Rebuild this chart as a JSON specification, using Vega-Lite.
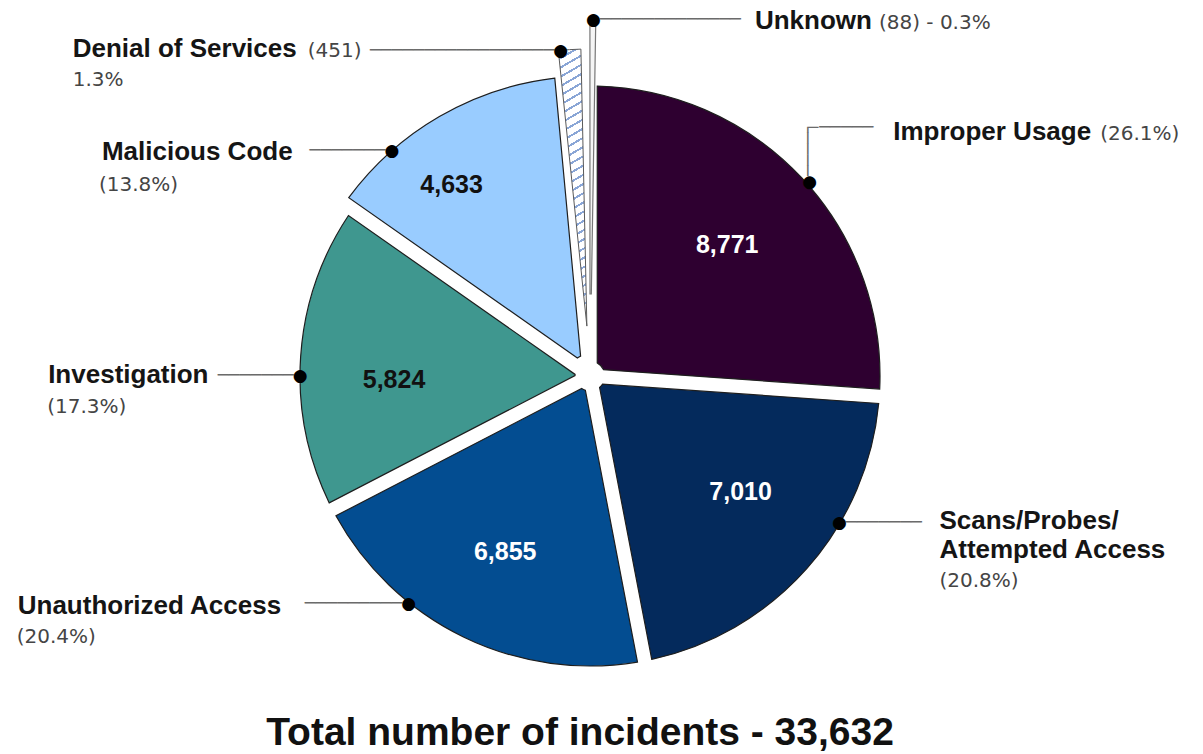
{
  "$schema": "https://vega.github.io/schema/vega-lite/v6.json",
  "width": 1180,
  "height": 752,
  "autosize": {"type": "none"},
  "padding": {"left": 0, "top": 0, "right": 23, "bottom": 2},
  "background": "white",
  "config": {"view": {"stroke": null}, "text": {"font": "Liberation Sans"}},
  "title": {"text": "Total number of incidents - 33,632", "orient": "bottom", "font": "Liberation Sans", "fontSize": 39, "fontWeight": "bold", "color": "#111111", "offset": -38, "dx": -10, "frame": "group"},
  "data": {"values": [
    {"id": "imp", "category": "Improper Usage", "value": 8771, "name": "Improper Usage", "pct": "(26.1%)"},
    {"id": "scan", "category": "Scans/Probes/Attempted Access", "value": 7010, "name": "Scans/Probes/\nAttempted Access", "pct": "(20.8%)"},
    {"id": "unauth", "category": "Unauthorized Access", "value": 6855, "name": "Unauthorized Access", "pct": "(20.4%)"},
    {"id": "inv", "category": "Investigation", "value": 5824, "name": "Investigation", "pct": "(17.3%)"},
    {"id": "mal", "category": "Malicious Code", "value": 4633, "name": "Malicious Code", "pct": "(13.8%)"},
    {"id": "dos", "category": "Denial of Services", "value": 451, "name": "Denial of Services", "pct": "(451)", "pct2": "1.3%"},
    {"id": "unk", "category": "Unknown", "value": 88, "name": "Unknown", "pct": "(88) - 0.3%"}
  ]},
  "transform": [
    {"window": [{"op": "row_number", "as": "rank"}]},
    {"stack": "value", "groupby": [], "sort": [{"field": "rank", "order": "ascending"}], "as": ["v0", "v1"]},
    {"fold": ["v0", "v1"], "as": ["k", "edge"]},
    {"joinaggregate": [{"op": "mean", "field": "edge", "as": "mid"}], "groupby": ["id"]},
    {"filter": "datum.k === 'v0'"}
  ],
  "encoding": {
    "theta": {"field": "mid", "type": "quantitative", "stack": null, "scale": {"zero": true, "nice": false}}
  },
  "layer": [
    {
      "transform": [{"filter": {"field": "id", "oneOf": ["imp", "scan", "unauth", "inv"]}}],
      "mark": {"type": "arc", "radius": 290, "radius2": 15, "padAngle": 0.05, "stroke": "#1e1e1e", "strokeWidth": 1.2},
      "encoding": {
        "theta": {"field": "v0", "type": "quantitative", "stack": null},
        "theta2": {"field": "v1"},
        "color": {"field": "id", "type": "nominal", "scale": {"domain": ["imp", "scan", "unauth", "inv"], "range": ["#2e0030", "#042a5c", "#034d91", "#3f978f"]}, "legend": null}
      }
    },
    {
      "transform": [{"filter": {"field": "id", "equal": "mal"}}],
      "mark": {"type": "arc", "radius": 300, "radius2": 22, "padAngle": 0.05, "fill": "#99ccff", "stroke": "#1e1e1e", "strokeWidth": 1.2},
      "encoding": {"theta": {"field": "v0", "type": "quantitative", "stack": null}, "theta2": {"field": "v1"}}
    },
    {
      "transform": [{"filter": {"field": "id", "equal": "dos"}}],
      "mark": {"type": "arc", "radius": 327, "radius2": 50, "padAngle": 0.015, "thetaOffset": -0.012, "theta2Offset": -0.012, "stroke": "#5a5a5a", "strokeWidth": 1,
        "fill": {"gradient": "linear", "x1": 0, "y1": 0, "x2": 0.06, "y2": 1, "stops": [
          {"offset": 0, "color": "#8aa6d6"}, {"offset": 0.0083, "color": "#8aa6d6"}, {"offset": 0.0083, "color": "#ffffff"}, {"offset": 0.0333, "color": "#ffffff"},
          {"offset": 0.0333, "color": "#8aa6d6"}, {"offset": 0.0417, "color": "#8aa6d6"}, {"offset": 0.0417, "color": "#ffffff"}, {"offset": 0.0667, "color": "#ffffff"},
          {"offset": 0.0667, "color": "#8aa6d6"}, {"offset": 0.075, "color": "#8aa6d6"}, {"offset": 0.075, "color": "#ffffff"}, {"offset": 0.1, "color": "#ffffff"},
          {"offset": 0.1, "color": "#8aa6d6"}, {"offset": 0.1083, "color": "#8aa6d6"}, {"offset": 0.1083, "color": "#ffffff"}, {"offset": 0.1333, "color": "#ffffff"},
          {"offset": 0.1333, "color": "#8aa6d6"}, {"offset": 0.1417, "color": "#8aa6d6"}, {"offset": 0.1417, "color": "#ffffff"}, {"offset": 0.1667, "color": "#ffffff"},
          {"offset": 0.1667, "color": "#8aa6d6"}, {"offset": 0.175, "color": "#8aa6d6"}, {"offset": 0.175, "color": "#ffffff"}, {"offset": 0.2, "color": "#ffffff"},
          {"offset": 0.2, "color": "#8aa6d6"}, {"offset": 0.2083, "color": "#8aa6d6"}, {"offset": 0.2083, "color": "#ffffff"}, {"offset": 0.2333, "color": "#ffffff"},
          {"offset": 0.2333, "color": "#8aa6d6"}, {"offset": 0.2417, "color": "#8aa6d6"}, {"offset": 0.2417, "color": "#ffffff"}, {"offset": 0.2667, "color": "#ffffff"},
          {"offset": 0.2667, "color": "#8aa6d6"}, {"offset": 0.275, "color": "#8aa6d6"}, {"offset": 0.275, "color": "#ffffff"}, {"offset": 0.3, "color": "#ffffff"},
          {"offset": 0.3, "color": "#8aa6d6"}, {"offset": 0.3083, "color": "#8aa6d6"}, {"offset": 0.3083, "color": "#ffffff"}, {"offset": 0.3333, "color": "#ffffff"},
          {"offset": 0.3333, "color": "#8aa6d6"}, {"offset": 0.3417, "color": "#8aa6d6"}, {"offset": 0.3417, "color": "#ffffff"}, {"offset": 0.3667, "color": "#ffffff"},
          {"offset": 0.3667, "color": "#8aa6d6"}, {"offset": 0.375, "color": "#8aa6d6"}, {"offset": 0.375, "color": "#ffffff"}, {"offset": 0.4, "color": "#ffffff"},
          {"offset": 0.4, "color": "#8aa6d6"}, {"offset": 0.4083, "color": "#8aa6d6"}, {"offset": 0.4083, "color": "#ffffff"}, {"offset": 0.4333, "color": "#ffffff"},
          {"offset": 0.4333, "color": "#8aa6d6"}, {"offset": 0.4417, "color": "#8aa6d6"}, {"offset": 0.4417, "color": "#ffffff"}, {"offset": 0.4667, "color": "#ffffff"},
          {"offset": 0.4667, "color": "#8aa6d6"}, {"offset": 0.475, "color": "#8aa6d6"}, {"offset": 0.475, "color": "#ffffff"}, {"offset": 0.5, "color": "#ffffff"},
          {"offset": 0.5, "color": "#8aa6d6"}, {"offset": 0.5083, "color": "#8aa6d6"}, {"offset": 0.5083, "color": "#ffffff"}, {"offset": 0.5333, "color": "#ffffff"},
          {"offset": 0.5333, "color": "#8aa6d6"}, {"offset": 0.5417, "color": "#8aa6d6"}, {"offset": 0.5417, "color": "#ffffff"}, {"offset": 0.5667, "color": "#ffffff"},
          {"offset": 0.5667, "color": "#8aa6d6"}, {"offset": 0.575, "color": "#8aa6d6"}, {"offset": 0.575, "color": "#ffffff"}, {"offset": 0.6, "color": "#ffffff"},
          {"offset": 0.6, "color": "#8aa6d6"}, {"offset": 0.6083, "color": "#8aa6d6"}, {"offset": 0.6083, "color": "#ffffff"}, {"offset": 0.6333, "color": "#ffffff"},
          {"offset": 0.6333, "color": "#8aa6d6"}, {"offset": 0.6417, "color": "#8aa6d6"}, {"offset": 0.6417, "color": "#ffffff"}, {"offset": 0.6667, "color": "#ffffff"},
          {"offset": 0.6667, "color": "#8aa6d6"}, {"offset": 0.675, "color": "#8aa6d6"}, {"offset": 0.675, "color": "#ffffff"}, {"offset": 0.7, "color": "#ffffff"},
          {"offset": 0.7, "color": "#8aa6d6"}, {"offset": 0.7083, "color": "#8aa6d6"}, {"offset": 0.7083, "color": "#ffffff"}, {"offset": 0.7333, "color": "#ffffff"},
          {"offset": 0.7333, "color": "#8aa6d6"}, {"offset": 0.7417, "color": "#8aa6d6"}, {"offset": 0.7417, "color": "#ffffff"}, {"offset": 0.7667, "color": "#ffffff"},
          {"offset": 0.7667, "color": "#8aa6d6"}, {"offset": 0.775, "color": "#8aa6d6"}, {"offset": 0.775, "color": "#ffffff"}, {"offset": 0.8, "color": "#ffffff"},
          {"offset": 0.8, "color": "#8aa6d6"}, {"offset": 0.8083, "color": "#8aa6d6"}, {"offset": 0.8083, "color": "#ffffff"}, {"offset": 0.8333, "color": "#ffffff"},
          {"offset": 0.8333, "color": "#8aa6d6"}, {"offset": 0.8417, "color": "#8aa6d6"}, {"offset": 0.8417, "color": "#ffffff"}, {"offset": 0.8667, "color": "#ffffff"},
          {"offset": 0.8667, "color": "#8aa6d6"}, {"offset": 0.875, "color": "#8aa6d6"}, {"offset": 0.875, "color": "#ffffff"}, {"offset": 0.9, "color": "#ffffff"},
          {"offset": 0.9, "color": "#8aa6d6"}, {"offset": 0.9083, "color": "#8aa6d6"}, {"offset": 0.9083, "color": "#ffffff"}, {"offset": 0.9333, "color": "#ffffff"},
          {"offset": 0.9333, "color": "#8aa6d6"}, {"offset": 0.9417, "color": "#8aa6d6"}, {"offset": 0.9417, "color": "#ffffff"}, {"offset": 0.9667, "color": "#ffffff"},
          {"offset": 0.9667, "color": "#8aa6d6"}, {"offset": 0.975, "color": "#8aa6d6"}, {"offset": 0.975, "color": "#ffffff"}, {"offset": 1, "color": "#ffffff"}
        ]}},
      "encoding": {"theta": {"field": "v0", "type": "quantitative", "stack": null}, "theta2": {"field": "v1"}}
    },
    {
      "transform": [{"filter": {"field": "id", "equal": "unk"}}],
      "mark": {"type": "arc", "radius": 356, "radius2": 82, "thetaOffset": 0.008, "theta2Offset": 0.008, "fill": "#f5f5f5", "stroke": "#777777", "strokeWidth": 1.2},
      "encoding": {"theta": {"field": "v0", "type": "quantitative", "stack": null}, "theta2": {"field": "v1"}}
    },

    {"transform": [{"filter": {"field": "id", "equal": "imp"}}], "mark": {"type": "text", "radius": 290, "angle": 270, "align": "right", "baseline": "middle", "dx": 56.38, "dy": 7.33, "font": "DejaVu Sans", "fontSize": 18, "fill": "#6b6b6b"}, "encoding": {"text": {"value": "────┐"}}},
    {"transform": [{"filter": {"field": "id", "equal": "imp"}}], "mark": {"type": "text", "radius": 290, "align": "left", "baseline": "middle", "dx": 17.13, "dy": -49.78, "font": "DejaVu Sans", "fontSize": 18, "fill": "#6b6b6b"}, "encoding": {"text": {"value": "─────"}}},
    {"transform": [{"filter": {"field": "id", "equal": "scan"}}], "mark": {"type": "text", "radius": 290, "align": "left", "baseline": "middle", "dx": 39, "dy": -45.8, "font": "DejaVu Sans", "fontSize": 18, "fill": "#6b6b6b"}, "encoding": {"text": {"value": "───────"}}},
    {"transform": [{"filter": {"field": "id", "equal": "unauth"}}], "mark": {"type": "text", "radius": 290, "align": "right", "baseline": "middle", "dx": -61.2, "dy": -32.5, "font": "DejaVu Sans", "fontSize": 18, "fill": "#6b6b6b"}, "encoding": {"text": {"value": "─────────"}}},
    {"transform": [{"filter": {"field": "id", "equal": "inv"}}], "mark": {"type": "text", "radius": 290, "align": "right", "baseline": "middle", "dx": -7, "dy": 19.5, "font": "DejaVu Sans", "fontSize": 18, "fill": "#6b6b6b"}, "encoding": {"text": {"value": "───────"}}},
    {"transform": [{"filter": {"field": "id", "equal": "mal"}}], "mark": {"type": "text", "radius": 290, "align": "right", "baseline": "middle", "dx": -59, "dy": 25.7, "font": "DejaVu Sans", "fontSize": 18, "fill": "#6b6b6b"}, "encoding": {"text": {"value": "───────"}}},
    {"transform": [{"filter": {"field": "id", "equal": "dos"}}], "mark": {"type": "text", "radius": 327, "align": "right", "baseline": "middle", "dx": -19.3, "dy": 1.4, "font": "DejaVu Sans", "fontSize": 18, "fill": "#6b6b6b"}, "encoding": {"text": {"value": "─────────────────"}}},
    {"transform": [{"filter": {"field": "id", "equal": "unk"}}], "mark": {"type": "text", "radius": 356, "align": "left", "baseline": "middle", "dx": 10, "dy": 0, "font": "DejaVu Sans", "fontSize": 18, "fill": "#6b6b6b"}, "encoding": {"text": {"value": "─────────────"}}},

    {"transform": [{"filter": {"field": "id", "equal": "imp"}}], "mark": {"type": "text", "radius": 290, "angle": 270, "align": "center", "baseline": "middle", "dx": -4.52, "dy": 7.13, "font": "DejaVu Sans", "fontSize": 17, "fill": "#000000"}, "encoding": {"text": {"value": "●"}}},
    {"transform": [{"filter": {"field": "id", "equal": "scan"}}], "mark": {"type": "text", "radius": 290, "align": "center", "baseline": "middle", "dx": 32.5, "dy": -45.8, "font": "DejaVu Sans", "fontSize": 17, "fill": "#000000"}, "encoding": {"text": {"value": "●"}}},
    {"transform": [{"filter": {"field": "id", "equal": "unauth"}}], "mark": {"type": "text", "radius": 290, "align": "center", "baseline": "middle", "dx": -54.7, "dy": -32.5, "font": "DejaVu Sans", "fontSize": 17, "fill": "#000000"}, "encoding": {"text": {"value": "●"}}},
    {"transform": [{"filter": {"field": "id", "equal": "inv"}}], "mark": {"type": "text", "radius": 290, "align": "center", "baseline": "middle", "dx": -0.5, "dy": 19.5, "font": "DejaVu Sans", "fontSize": 17, "fill": "#000000"}, "encoding": {"text": {"value": "●"}}},
    {"transform": [{"filter": {"field": "id", "equal": "mal"}}], "mark": {"type": "text", "radius": 290, "align": "center", "baseline": "middle", "dx": -52.5, "dy": 25.7, "font": "DejaVu Sans", "fontSize": 17, "fill": "#000000"}, "encoding": {"text": {"value": "●"}}},
    {"transform": [{"filter": {"field": "id", "equal": "dos"}}], "mark": {"type": "text", "radius": 327, "align": "center", "baseline": "middle", "dx": -12.8, "dy": 1.4, "font": "DejaVu Sans", "fontSize": 17, "fill": "#000000"}, "encoding": {"text": {"value": "●"}}},
    {"transform": [{"filter": {"field": "id", "equal": "unk"}}], "mark": {"type": "text", "radius": 356, "align": "center", "baseline": "middle", "dx": 3.5, "dy": 0, "font": "DejaVu Sans", "fontSize": 17, "fill": "#000000"}, "encoding": {"text": {"value": "●"}}},

    {"transform": [{"filter": {"field": "id", "equal": "imp"}}], "mark": {"type": "text", "radius": 290, "align": "left", "baseline": "alphabetic", "dx": 91.1, "dy": -38, "fontSize": 26, "fontWeight": "bold", "fill": "#151515"}, "encoding": {"text": {"field": "name", "type": "nominal"}}},
    {"transform": [{"filter": {"field": "id", "equal": "scan"}}], "mark": {"type": "text", "radius": 290, "align": "left", "baseline": "alphabetic", "dx": 132.5, "dy": -39.8, "fontSize": 26, "fontWeight": "bold", "fill": "#151515", "lineBreak": "\n", "lineHeight": 29}, "encoding": {"text": {"field": "name", "type": "nominal"}}},
    {"transform": [{"filter": {"field": "id", "equal": "unauth"}}], "mark": {"type": "text", "radius": 290, "align": "left", "baseline": "alphabetic", "dx": -445.7, "dy": -22.5, "fontSize": 26, "fontWeight": "bold", "fill": "#151515"}, "encoding": {"text": {"field": "name", "type": "nominal"}}},
    {"transform": [{"filter": {"field": "id", "equal": "inv"}}], "mark": {"type": "text", "radius": 290, "align": "left", "baseline": "alphabetic", "dx": -252.5, "dy": 26.5, "fontSize": 26, "fontWeight": "bold", "fill": "#151515"}, "encoding": {"text": {"field": "name", "type": "nominal"}}},
    {"transform": [{"filter": {"field": "id", "equal": "mal"}}], "mark": {"type": "text", "radius": 290, "align": "left", "baseline": "alphabetic", "dx": -342.5, "dy": 34.7, "fontSize": 26, "fontWeight": "bold", "fill": "#151515"}, "encoding": {"text": {"field": "name", "type": "nominal"}}},
    {"transform": [{"filter": {"field": "id", "equal": "dos"}}], "mark": {"type": "text", "radius": 327, "align": "left", "baseline": "alphabetic", "dx": -500.8, "dy": 7.4, "fontSize": 26, "fontWeight": "bold", "fill": "#151515"}, "encoding": {"text": {"field": "name", "type": "nominal"}}},
    {"transform": [{"filter": {"field": "id", "equal": "unk"}}], "mark": {"type": "text", "radius": 356, "align": "left", "baseline": "alphabetic", "dx": 164.9, "dy": 9, "fontSize": 26, "fontWeight": "bold", "fill": "#151515"}, "encoding": {"text": {"field": "name", "type": "nominal"}}},

    {"transform": [{"filter": {"field": "id", "equal": "imp"}}], "mark": {"type": "text", "radius": 290, "align": "left", "baseline": "alphabetic", "dx": 298.1, "dy": -38, "font": "DejaVu Sans", "fontSize": 20, "fill": "#454545"}, "encoding": {"text": {"field": "pct", "type": "nominal"}}},
    {"transform": [{"filter": {"field": "id", "equal": "scan"}}], "mark": {"type": "text", "radius": 290, "align": "left", "baseline": "alphabetic", "dx": 132.5, "dy": 18.2, "font": "DejaVu Sans", "fontSize": 20, "fill": "#454545"}, "encoding": {"text": {"field": "pct", "type": "nominal"}}},
    {"transform": [{"filter": {"field": "id", "equal": "unauth"}}], "mark": {"type": "text", "radius": 290, "align": "left", "baseline": "alphabetic", "dx": -446.7, "dy": 6.5, "font": "DejaVu Sans", "fontSize": 20, "fill": "#454545"}, "encoding": {"text": {"field": "pct", "type": "nominal"}}},
    {"transform": [{"filter": {"field": "id", "equal": "inv"}}], "mark": {"type": "text", "radius": 290, "align": "left", "baseline": "alphabetic", "dx": -253.5, "dy": 56.5, "font": "DejaVu Sans", "fontSize": 20, "fill": "#454545"}, "encoding": {"text": {"field": "pct", "type": "nominal"}}},
    {"transform": [{"filter": {"field": "id", "equal": "mal"}}], "mark": {"type": "text", "radius": 290, "align": "left", "baseline": "alphabetic", "dx": -345.5, "dy": 65.7, "font": "DejaVu Sans", "fontSize": 20, "fill": "#454545"}, "encoding": {"text": {"field": "pct", "type": "nominal"}}},
    {"transform": [{"filter": {"field": "id", "equal": "dos"}}], "mark": {"type": "text", "radius": 327, "align": "left", "baseline": "alphabetic", "dx": -265.8, "dy": 7.4, "font": "DejaVu Sans", "fontSize": 20, "fill": "#454545"}, "encoding": {"text": {"field": "pct", "type": "nominal"}}},
    {"transform": [{"filter": {"field": "id", "equal": "dos"}}], "mark": {"type": "text", "radius": 327, "align": "left", "baseline": "alphabetic", "dx": -500.8, "dy": 36.4, "font": "DejaVu Sans", "fontSize": 20, "fill": "#454545"}, "encoding": {"text": {"field": "pct2", "type": "nominal"}}},
    {"transform": [{"filter": {"field": "id", "equal": "unk"}}], "mark": {"type": "text", "radius": 356, "align": "left", "baseline": "alphabetic", "dx": 288.9, "dy": 9, "font": "DejaVu Sans", "fontSize": 20, "fill": "#454545"}, "encoding": {"text": {"field": "pct", "type": "nominal"}}},

    {"transform": [{"filter": {"field": "id", "equal": "imp"}}], "mark": {"type": "text", "radius": 190, "align": "center", "baseline": "middle", "dx": -1.8, "dy": -1.8, "fontSize": 25, "fontWeight": "bold", "fill": "#ffffff"}, "encoding": {"text": {"field": "value", "type": "quantitative", "format": ","}}},
    {"transform": [{"filter": {"field": "id", "equal": "scan"}}], "mark": {"type": "text", "radius": 190, "align": "center", "baseline": "middle", "dx": 8.5, "dy": -10.2, "fontSize": 25, "fontWeight": "bold", "fill": "#ffffff"}, "encoding": {"text": {"field": "value", "type": "quantitative", "format": ","}}},
    {"transform": [{"filter": {"field": "id", "equal": "unauth"}}], "mark": {"type": "text", "radius": 190, "align": "center", "baseline": "middle", "dx": -1.9, "dy": 5.2, "fontSize": 25, "fontWeight": "bold", "fill": "#ffffff"}, "encoding": {"text": {"field": "value", "type": "quantitative", "format": ","}}},
    {"transform": [{"filter": {"field": "id", "equal": "inv"}}], "mark": {"type": "text", "radius": 190, "align": "center", "baseline": "middle", "dx": -6.4, "dy": 17, "fontSize": 25, "fontWeight": "bold", "fill": "#111111"}, "encoding": {"text": {"field": "value", "type": "quantitative", "format": ","}}},
    {"transform": [{"filter": {"field": "id", "equal": "mal"}}], "mark": {"type": "text", "radius": 240, "align": "center", "baseline": "middle", "dx": -17.9, "dy": 16.1, "fontSize": 25, "fontWeight": "bold", "fill": "#111111"}, "encoding": {"text": {"field": "value", "type": "quantitative", "format": ","}}}
  ]
}
